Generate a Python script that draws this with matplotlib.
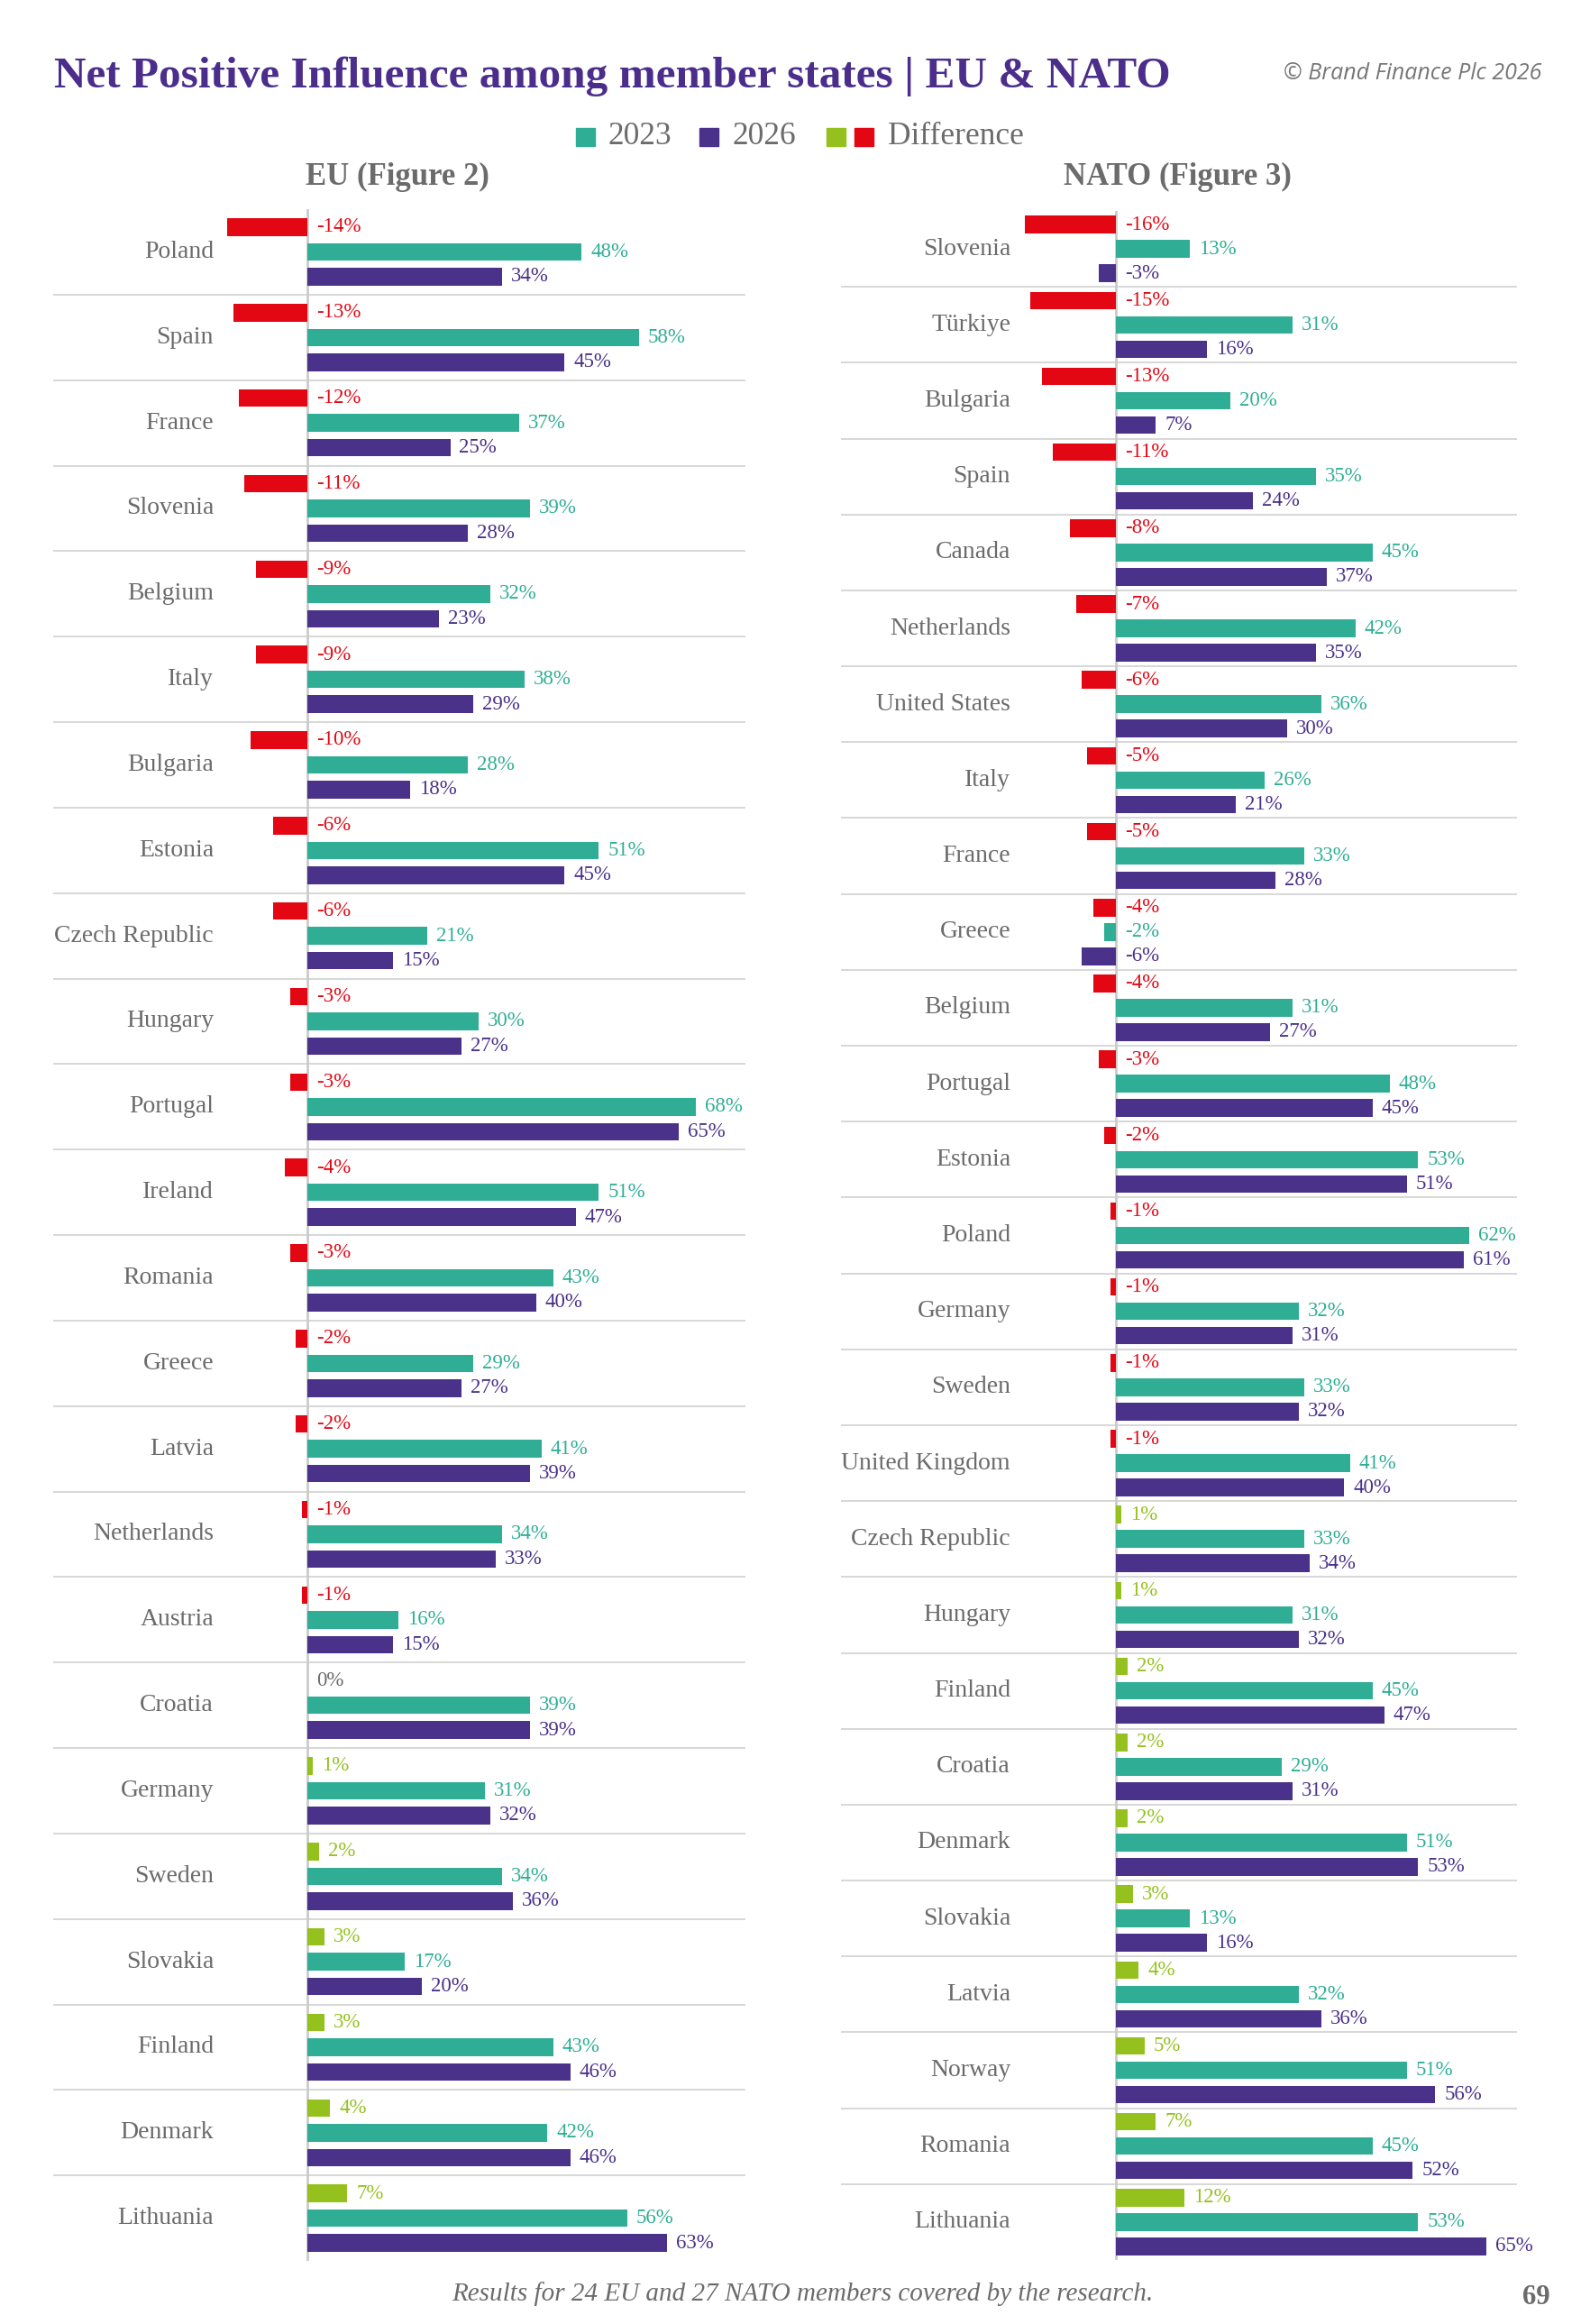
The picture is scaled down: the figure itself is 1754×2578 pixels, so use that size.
import numpy as np
import matplotlib.pyplot as plt
from matplotlib.patches import Rectangle

W, H = 1754, 2578
SERIF = ["Liberation Serif", "DejaVu Serif"]
plt.rcParams["font.family"] = SERIF

TEAL = "#2fae95"
PURPLE = "#4a3189"
GREEN = "#95c11f"
RED = "#e30613"
GREY = "#6b6b6b"
TITLE = "#4b2d8b"

eu_countries = ["Poland", "Spain", "France", "Slovenia", "Belgium", "Italy", "Bulgaria",
                "Estonia", "Czech Republic", "Hungary", "Portugal", "Ireland", "Romania",
                "Greece", "Latvia", "Netherlands", "Austria", "Croatia", "Germany", "Sweden",
                "Slovakia", "Finland", "Denmark", "Lithuania"]
eu_diff = [-14, -13, -12, -11, -9, -9, -10, -6, -6, -3, -3, -4, -3, -2, -2, -1, -1, 0,
           1, 2, 3, 3, 4, 7]
eu_2023 = [48, 58, 37, 39, 32, 38, 28, 51, 21, 30, 68, 51, 43, 29, 41, 34, 16, 39,
           31, 34, 17, 43, 42, 56]
eu_2026 = [34, 45, 25, 28, 23, 29, 18, 45, 15, 27, 65, 47, 40, 27, 39, 33, 15, 39,
           32, 36, 20, 46, 46, 63]

nato_countries = ["Slovenia", "Türkiye", "Bulgaria", "Spain", "Canada", "Netherlands",
                  "United States", "Italy", "France", "Greece", "Belgium", "Portugal",
                  "Estonia", "Poland", "Germany", "Sweden", "United Kingdom",
                  "Czech Republic", "Hungary", "Finland", "Croatia", "Denmark", "Slovakia",
                  "Latvia", "Norway", "Romania", "Lithuania"]
nato_diff = [-16, -15, -13, -11, -8, -7, -6, -5, -5, -4, -4, -3, -2, -1, -1, -1, -1,
             1, 1, 2, 2, 2, 3, 4, 5, 7, 12]
nato_2023 = [13, 31, 20, 35, 45, 42, 36, 26, 33, -2, 31, 48, 53, 62, 32, 33, 41,
             33, 31, 45, 29, 51, 13, 32, 51, 45, 53]
nato_2026 = [-3, 16, 7, 24, 37, 35, 30, 21, 28, -6, 27, 45, 51, 61, 31, 32, 40,
             34, 32, 47, 31, 53, 16, 36, 56, 52, 65]

legend_labels = ["2023", "2026", "Difference"]

fig = plt.figure(figsize=(W / 100, H / 100), dpi=100)


def panel(countries, diff, v23, v26, left, right, top, bottom, zero, label_right,
          scale=6.34, gap_px=27.5, bar_px=19.5):
    n = len(countries)
    pitch = (bottom - top) / n
    ax = fig.add_axes([left / W, 1 - bottom / H, (right - left) / W, (bottom - top) / H])
    ax.set_xlim((left - zero) / scale, (right - zero) / scale)
    ax.set_ylim(n - 0.5, -0.5)
    ax.axis("off")
    off, hh = gap_px / pitch, bar_px / pitch
    y = np.arange(n)
    for i in range(n - 1):
        ax.axhline(i + 0.5, color="#d4d4d4", lw=1.3, zorder=0)
    diff_cols = [GREEN if v > 0 else RED for v in diff]
    for vals, dy, cols in [(diff, -off, diff_cols), (v23, 0, [TEAL] * n), (v26, off, [PURPLE] * n)]:
        ax.barh(y + dy, vals, height=hh, color=cols, zorder=2)
        for yi, v, c in zip(y, vals, cols):
            ax.text(max(v, 0) + 10 / scale, yi + dy, f"{v}%", ha="left", va="center",
                    fontsize=16.5, color=GREY if v == 0 else c, clip_on=False)
    ax.axvline(0, color="#cbcbcb", lw=2, zorder=1)
    for yi, c in zip(y, countries):
        ax.text((label_right - zero) / scale, yi, c, ha="right", va="center",
                fontsize=20, color=GREY)
    return ax


panel(eu_countries, eu_diff, eu_2023, eu_2026, 59, 827, 232, 2508, 341, 237)
panel(nato_countries, nato_diff, nato_2023, nato_2026, 933, 1683, 234, 2507, 1238, 1121,
      scale=6.33, gap_px=27, bar_px=19.5)

fig.text(60 / W, 1 - 85 / H, "Net Positive Influence among member states | EU & NATO",
         fontsize=35.5, fontweight="bold", color=TITLE, ha="left", va="center")
fig.text(1710 / W, 1 - 81 / H, "© Brand Finance Plc 2026", family="Open Sans",
         style="italic", fontsize=18, color="#777777", ha="right", va="center")

fig.text(441 / W, 1 - 196 / H, "EU (Figure 2)", fontsize=25, fontweight="bold",
         color=GREY, ha="center", va="center")
fig.text(1306 / W, 1 - 196 / H, "NATO (Figure 3)", fontsize=25, fontweight="bold",
         color=GREY, ha="center", va="center")

# legend: small squares + labels
swatches = [(639, [TEAL]), (776, [PURPLE]), (917, [GREEN, RED])]
text_x = [675, 812, 985]
for (sx, cols), tx, lab in zip(swatches, text_x, legend_labels):
    for k, c in enumerate(cols):
        fig.add_artist(Rectangle(((sx + 31 * k) / W, 1 - 162 / H), 21 / W, 20 / H,
                                 transform=fig.transFigure, color=c))
    fig.text(tx / W, 1 - 152 / H, lab, fontsize=25.5, color=GREY, ha="left", va="center")

fig.text(890 / W, 1 - 2545 / H, "Results for 24 EU and 27 NATO members covered by the research.",
         style="italic", fontsize=21, color=GREY, ha="center", va="center")
fig.text(1704 / W, 1 - 2548 / H, "69", fontweight="bold", fontsize=22, color=GREY,
         ha="center", va="center")

fig.savefig("out.png", dpi=100, facecolor="white")
